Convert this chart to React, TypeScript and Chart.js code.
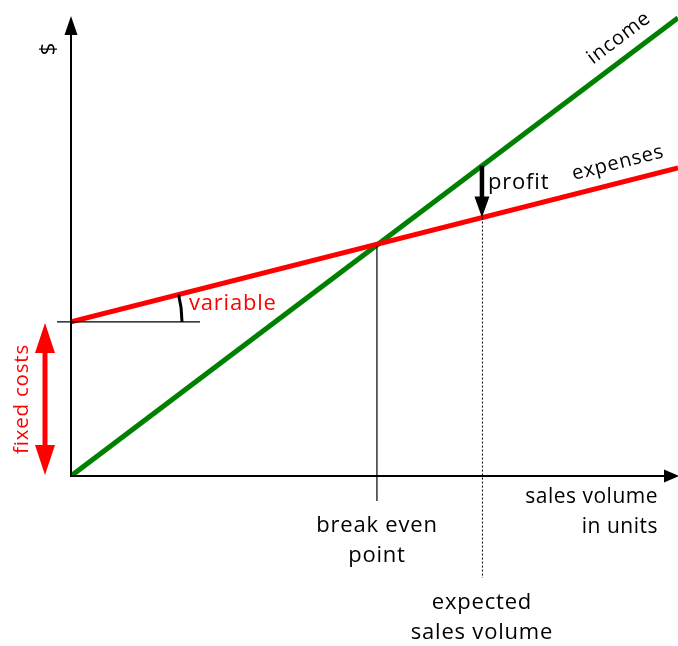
import React, { useEffect, useRef } from "react";
import { Chart, registerables } from "chart.js";

Chart.register(...registerables);

// x: sales volume in units (0..100), y: $ (0..100)
const volumes = [0, 100];
const incomeValues = [0, 99.6];
const expenseValues = [33.5, 67.0];
const breakEvenVolume = 50.4;
const expectedVolume = 67.7;

const FONT = "'Open Sans', sans-serif";

const annotate = {
  id: "annotate",
  afterDatasetsDraw(chart: any) {
    const { ctx, scales } = chart;
    const xs = scales.x;
    const ys = scales.y;
    const X = (v: number) => xs.getPixelForValue(v);
    const Y = (v: number) => ys.getPixelForValue(v);
    const inc = (v: number) => incomeValues[0] + (incomeValues[1] - incomeValues[0]) * (v - volumes[0]) / (volumes[1] - volumes[0]);
    const exp = (v: number) => expenseValues[0] + (expenseValues[1] - expenseValues[0]) * (v - volumes[0]) / (volumes[1] - volumes[0]);

    const ox = X(0), oy = Y(0);
    ctx.save();

    // axes
    ctx.strokeStyle = "#000";
    ctx.fillStyle = "#000";
    ctx.lineWidth = 2;
    ctx.beginPath();
    ctx.moveTo(ox, oy + 1);
    ctx.lineTo(ox, 30);
    ctx.moveTo(ox - 1, oy);
    ctx.lineTo(665, oy);
    ctx.stroke();
    // y arrow head
    ctx.beginPath();
    ctx.moveTo(ox, 16);
    ctx.lineTo(ox - 6.5, 35);
    ctx.lineTo(ox + 6.5, 35);
    ctx.closePath();
    ctx.fill();
    // x arrow head
    ctx.beginPath();
    ctx.moveTo(679, oy);
    ctx.lineTo(664, oy - 6.5);
    ctx.lineTo(664, oy + 6.5);
    ctx.closePath();
    ctx.fill();

    // fixed-cost horizontal reference line
    ctx.lineWidth = 1.2;
    ctx.beginPath();
    ctx.moveTo(57, Y(expenseValues[0]));
    ctx.lineTo(200, Y(expenseValues[0]));
    ctx.stroke();

    // angle arc
    const fy = Y(expenseValues[0]);
    const ang = Math.atan2(Y(exp(100)) - fy, X(100) - ox);
    ctx.lineWidth = 3;
    ctx.beginPath();
    ctx.arc(ox, fy, 111, ang, 0);
    ctx.stroke();

    // break even vertical line
    const bx = X(breakEvenVolume);
    ctx.lineWidth = 1.2;
    ctx.beginPath();
    ctx.moveTo(bx, Y(exp(breakEvenVolume)) + 2);
    ctx.lineTo(bx, 501);
    ctx.stroke();

    // expected dotted line
    const ex = X(expectedVolume);
    ctx.setLineDash([2, 2]);
    ctx.lineWidth = 1;
    ctx.beginPath();
    ctx.moveTo(ex + 0.5, Y(exp(expectedVolume)));
    ctx.lineTo(ex + 0.5, 578);
    ctx.stroke();
    ctx.setLineDash([]);

    // profit arrow
    const pTop = Y(inc(expectedVolume));
    const pBot = Y(exp(expectedVolume));
    ctx.lineWidth = 4.5;
    ctx.beginPath();
    ctx.moveTo(ex, pTop);
    ctx.lineTo(ex, pBot - 18);
    ctx.stroke();
    ctx.beginPath();
    ctx.moveTo(ex, pBot);
    ctx.lineTo(ex - 7.5, pBot - 21);
    ctx.lineTo(ex + 7.5, pBot - 21);
    ctx.closePath();
    ctx.fill();

    // fixed costs double arrow
    const ax = 45;
    const t = Y(expenseValues[0]) + 1;
    const b = oy - 1;
    ctx.fillStyle = "#ff0000";
    ctx.strokeStyle = "#ff0000";
    ctx.lineWidth = 5;
    ctx.beginPath();
    ctx.moveTo(ax, t + 25);
    ctx.lineTo(ax, b - 25);
    ctx.stroke();
    ctx.beginPath();
    ctx.moveTo(ax, t);
    ctx.lineTo(ax - 10, t + 30);
    ctx.lineTo(ax + 10, t + 30);
    ctx.closePath();
    ctx.fill();
    ctx.beginPath();
    ctx.moveTo(ax, b);
    ctx.lineTo(ax - 10, b - 30);
    ctx.lineTo(ax + 10, b - 30);
    ctx.closePath();
    ctx.fill();

    // texts
    (ctx as any).letterSpacing = "0.8px";
    ctx.textBaseline = "middle";
    ctx.textAlign = "center";
    // fixed costs
    ctx.save();
    ctx.translate(22, 399);
    ctx.rotate(-Math.PI / 2);
    ctx.font = `20.5px ${FONT}`;
    ctx.fillText("fixed costs", 0, 0);
    ctx.restore();
    // variable
    ctx.textAlign = "left";
    ctx.font = `22px ${FONT}`;
    ctx.fillText("variable", 189, 304);

    ctx.fillStyle = "#000";
    // $
    ctx.save();
    ctx.translate(49, 49);
    ctx.rotate(-Math.PI / 2);
    ctx.textAlign = "center";
    (ctx as any).letterSpacing = "0px";
    ctx.font = `22px ${FONT}`;
    ctx.fillText("$", 0, 0);
    ctx.restore();

    // income
    const incAng = Math.atan2(Y(inc(100)) - Y(inc(0)), X(100) - X(0));
    ctx.save();
    ctx.translate(619, 38);
    ctx.rotate(incAng);
    ctx.textAlign = "center";
    ctx.font = `20px ${FONT}`;
    ctx.fillText("income", 0, 0);
    ctx.restore();

    // expenses
    const expAng = Math.atan2(Y(exp(100)) - Y(exp(0)), X(100) - X(0));
    ctx.save();
    ctx.translate(618, 163);
    ctx.rotate(expAng);
    ctx.textAlign = "center";
    ctx.font = `20px ${FONT}`;
    ctx.fillText("expenses", 0, 0);
    ctx.restore();

    // profit
    ctx.textAlign = "left";
    ctx.font = `22px ${FONT}`;
    ctx.fillText("profit", 488, 183);

    // break even point
    ctx.textAlign = "center";
    ctx.font = `22px ${FONT}`;
    ctx.fillText("break even", bx, 526);
    ctx.fillText("point", bx, 556);

    // expected sales volume
    ctx.fillText("expected", ex, 603);
    ctx.fillText("sales volume", ex, 633);

    // axis title
    ctx.textAlign = "right";
    (ctx as any).letterSpacing = "0.5px";
    ctx.font = `21px ${FONT}`;
    ctx.fillText("sales volume", 658, 497);
    ctx.fillText("in units", 658, 527);

    ctx.restore();
  },
};

export default function App() {
  const ref = useRef<HTMLCanvasElement | null>(null);
  useEffect(() => {
    document.body.style.margin = "0";
    const chart = new Chart(ref.current as HTMLCanvasElement, {
      type: "line",
      data: {
        datasets: [
          {
            label: "expenses",
            data: volumes.map((v, i) => ({ x: v, y: expenseValues[i] })),
            borderColor: "#ff0000",
            borderWidth: 5,
            pointRadius: 0,
            fill: false,
          },
          {
            label: "income",
            data: volumes.map((v, i) => ({ x: v, y: incomeValues[i] })),
            borderColor: "#008000",
            borderWidth: 5,
            pointRadius: 0,
            fill: false,
          },
        ],
      },
      options: {
        animation: false,
        responsive: false,
        maintainAspectRatio: false,
        layout: { padding: { left: 71, right: 0, top: 16, bottom: 170 } },
        plugins: { legend: { display: false }, tooltip: { enabled: false } },
        scales: {
          x: { type: "linear", min: 0, max: 100, display: false },
          y: { type: "linear", min: 0, max: 100, display: false },
        },
      },
      plugins: [annotate],
    });
    return () => chart.destroy();
  }, []);
  return (
    <div style={{ position: "absolute", left: 0, top: 0, width: 678, height: 646 }}>
      <canvas ref={ref} width={678} height={646} />
    </div>
  );
}
